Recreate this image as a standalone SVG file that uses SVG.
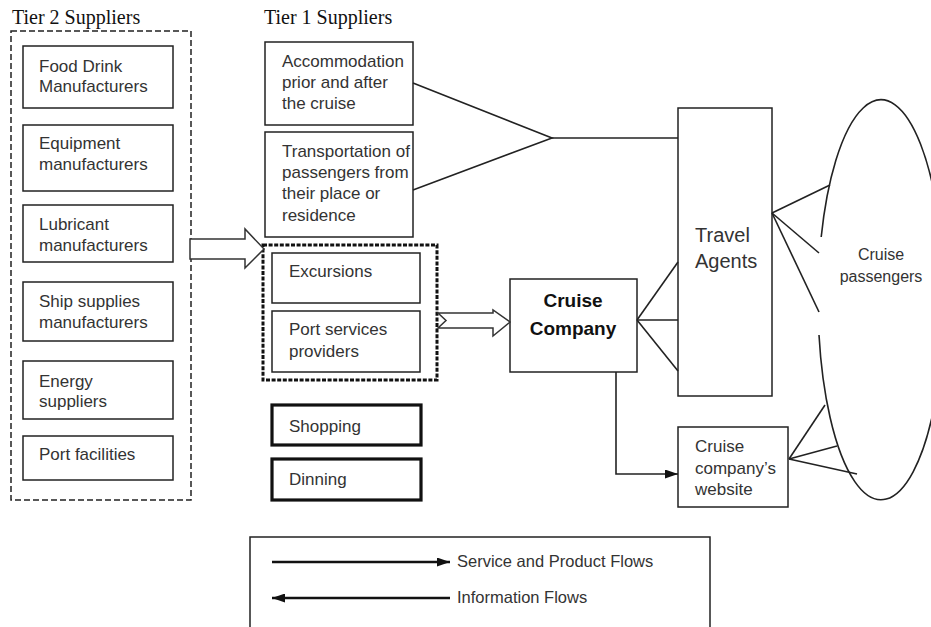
<svg xmlns="http://www.w3.org/2000/svg" width="931" height="627" viewBox="0 0 931 627">
<style>
.box{fill:#fff;stroke:#222;stroke-width:1.5}
.thick{fill:#fff;stroke:#111;stroke-width:3.2}
.t{font-family:"Liberation Sans",Arial,sans-serif;font-size:17px;fill:#333}
.hd{font-family:"Liberation Serif","Times New Roman",serif;font-size:20px;fill:#111}
.ln{fill:none;stroke:#222;stroke-width:1.6}
</style>
<defs>
<marker id="ah" viewBox="0 0 13 9" refX="13" refY="4.5" markerWidth="13" markerHeight="9" markerUnits="userSpaceOnUse" orient="auto-start-reverse">
<path d="M0,0 L13,4.5 L0,9 Z" fill="#111"/>
</marker>
</defs>
<rect width="931" height="627" fill="#fff"/>

<text class="hd" x="12" y="24">Tier 2 Suppliers</text>
<text class="hd" x="264" y="24">Tier 1 Suppliers</text>

<g id="tier2">
<rect x="11" y="31" width="180" height="469" fill="none" stroke="#222" stroke-width="1.5" stroke-dasharray="6 3"/>
</g>
<g id="food"><rect class="box" x="23" y="46" width="150" height="62"/><text class="t" x="39" y="72">Food Drink</text><text class="t" x="39" y="92">Manufacturers</text></g>
<g id="equipment"><rect class="box" x="23" y="125" width="150" height="66"/><text class="t" x="39" y="149">Equipment</text><text class="t" x="39" y="170">manufacturers</text></g>
<g id="lubricant"><rect class="box" x="23" y="205" width="150" height="57"/><text class="t" x="39" y="230">Lubricant</text><text class="t" x="39" y="251">manufacturers</text></g>
<g id="ship"><rect class="box" x="23" y="282" width="150" height="59"/><text class="t" x="39" y="307">Ship supplies</text><text class="t" x="39" y="328">manufacturers</text></g>
<g id="energy"><rect class="box" x="23" y="361" width="150" height="58"/><text class="t" x="39" y="387">Energy</text><text class="t" x="39" y="407">suppliers</text></g>
<g id="port-facilities"><rect class="box" x="23" y="436" width="150" height="44"/><text class="t" x="39" y="460">Port facilities</text></g>

<g id="accommodation"><rect class="box" x="265" y="42" width="148" height="83"/><text class="t" x="282" y="67">Accommodation</text><text class="t" x="282" y="88">prior and after</text><text class="t" x="282" y="109">the cruise</text></g>
<g id="transportation"><rect class="box" x="265" y="132" width="148" height="105"/><text class="t" x="282" y="157">Transportation of</text><text class="t" x="282" y="178">passengers from</text><text class="t" x="282" y="199">their place or</text><text class="t" x="282" y="221">residence</text></g>

<g id="tier1-group">
<rect x="263" y="245" width="174" height="135" fill="none" stroke="#111" stroke-width="3" stroke-dasharray="4 1.6"/>
</g>
<g id="excursions"><rect class="box" x="272" y="253" width="148" height="50"/><text class="t" x="289" y="277">Excursions</text></g>
<g id="port-services"><rect class="box" x="272" y="311" width="148" height="61"/><text class="t" x="289" y="335">Port services</text><text class="t" x="289" y="357">providers</text></g>
<g id="shopping"><rect class="thick" x="272" y="405" width="149" height="40"/><text class="t" x="289" y="432">Shopping</text></g>
<g id="dinning"><rect class="thick" x="272" y="459" width="149" height="41"/><text class="t" x="289" y="485">Dinning</text></g>

<g id="cruise-company"><rect class="box" x="510" y="279" width="127" height="93"/><text x="573" y="307" text-anchor="middle" font-family="Liberation Sans,Arial,sans-serif" font-size="19" font-weight="bold" fill="#111">Cruise</text><text x="573" y="335" text-anchor="middle" font-family="Liberation Sans,Arial,sans-serif" font-size="19" font-weight="bold" fill="#111">Company</text></g>

<g id="travel-agents"><rect class="box" x="678" y="108" width="94" height="288"/><text x="695" y="242" font-family="Liberation Sans,Arial,sans-serif" font-size="20" fill="#333">Travel</text><text x="695" y="268" font-family="Liberation Sans,Arial,sans-serif" font-size="20" fill="#333">Agents</text></g>

<g id="website"><rect class="box" x="678" y="427" width="110" height="80"/><text class="t" x="695" y="452">Cruise</text><text class="t" x="695" y="474">company’s</text><text class="t" x="695" y="495">website</text></g>

<g id="cruise-passengers">
<path d="M821.2,237 A63,200 0 1 1 819,335" fill="none" stroke="#222" stroke-width="1.6"/>
<text x="881" y="260" text-anchor="middle" font-family="Liberation Sans,Arial,sans-serif" font-size="16" fill="#333">Cruise</text>
<text x="881" y="282" text-anchor="middle" font-family="Liberation Sans,Arial,sans-serif" font-size="16" fill="#333">passengers</text>
</g>

<g id="connectors">
<polygon points="190,239 245,239 245,229 264,249 245,268 245,259 190,259" fill="#fff" stroke="#333" stroke-width="1.5"/>
<polygon points="438,313 493,313 493,310 510,322 493,336 493,328 438,328 446,320.5" fill="#fff" stroke="#333" stroke-width="1.5"/>
<polyline class="ln" points="413,83 552,138 413,190"/>
<line class="ln" x1="552" y1="138" x2="678" y2="138"/>
<line class="ln" x1="637" y1="320" x2="678" y2="262"/>
<line class="ln" x1="637" y1="320" x2="678" y2="320"/>
<line class="ln" x1="637" y1="320" x2="678" y2="371"/>
<line class="ln" x1="772" y1="213" x2="830" y2="185"/>
<line class="ln" x1="772" y1="213" x2="819" y2="253"/>
<line class="ln" x1="772" y1="213" x2="819" y2="312"/>
<line class="ln" x1="789" y1="459" x2="825" y2="405"/>
<line class="ln" x1="789" y1="459" x2="837" y2="446"/>
<line class="ln" x1="789" y1="459" x2="857" y2="474"/>
<polyline class="ln" points="616,372 616,474 678,474" marker-end="url(#ah)"/>
</g>

<g id="legend">
<rect x="250" y="537" width="460" height="110" fill="none" stroke="#222" stroke-width="1.5"/>
<line x1="272" y1="562" x2="450" y2="562" stroke="#111" stroke-width="2.4" marker-end="url(#ah)"/>
<text x="457" y="567" font-family="Liberation Sans,Arial,sans-serif" font-size="16.5" fill="#333">Service and Product Flows</text>
<line x1="450" y1="598" x2="272" y2="598" stroke="#111" stroke-width="2.4" marker-end="url(#ah)"/>
<text x="457" y="603" font-family="Liberation Sans,Arial,sans-serif" font-size="16.5" fill="#333">Information Flows</text>
</g>
</svg>
